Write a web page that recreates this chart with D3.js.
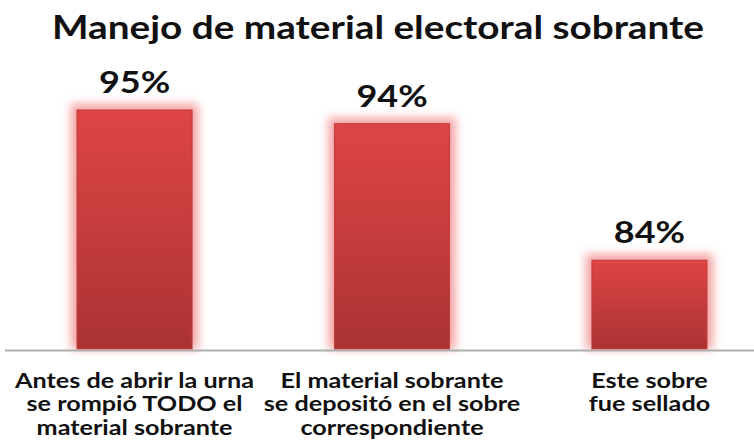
<!DOCTYPE html>
<html><head><meta charset="utf-8">
<script src="https://cdn.jsdelivr.net/npm/d3@7"></script>
<style>body{margin:0;background:#fff}svg{display:block}</style>
</head><body>
<script>
const categories = [
  ["Antes de abrir la urna","se rompió TODO el","material sobrante"],
  ["El material sobrante","se depositó en el sobre","correspondiente"],
  ["Este sobre","fue sellado"]
];
const values = [95, 94, 84];
const valueLabels = ["95%","94%","84%"];
const title = "Manejo de material electoral sobrante";

const W = 754, H = 448;
const svg = d3.select("body").append("svg").attr("width", W).attr("height", H);
const defs = svg.append("defs");
const grad = defs.append("linearGradient").attr("id","barGrad").attr("x1",0).attr("y1",0).attr("x2",0).attr("y2",1);
grad.append("stop").attr("offset","0%").attr("stop-color","#df4545");
grad.append("stop").attr("offset","100%").attr("stop-color","#ab3333");
const glow = defs.append("filter").attr("id","glow").attr("x","-30%").attr("y","-30%").attr("width","160%").attr("height","160%");
glow.append("feGaussianBlur").attr("stdDeviation",5);

const font = "Lato, 'Open Sans', sans-serif";
const stretch = 1.2;
const idx = d3.range(values.length);
const x = d3.scaleBand().domain(idx).range([77, 707]).paddingInner(0.553).paddingOuter(0);
const y = d3.scaleLinear().domain([77.5, 95]).range([349, 110]);
const cx = i => x(i) + x.bandwidth()/2;

svg.append("text").attr("x", 378).attr("y", 39).attr("text-anchor","middle")
  .attr("font-family", font).attr("font-weight", "bold").attr("font-size", 33)
  .attr("fill","#111").attr("textLength", 652).attr("lengthAdjust","spacingAndGlyphs").text(title);

const g = svg.append("g");
g.selectAll("rect.glow").data(idx).join("rect").attr("class","glow")
  .attr("x", i => x(i) - 6).attr("width", x.bandwidth() + 12)
  .attr("y", i => y(values[i]) - 6).attr("height", i => y.range()[0] - y(values[i]) + 6)
  .attr("fill","#f4a0a0").attr("filter","url(#glow)");
g.selectAll("rect.bar").data(idx).join("rect").attr("class","bar")
  .attr("x", i => x(i)).attr("width", x.bandwidth())
  .attr("y", i => y(values[i])).attr("height", i => y.range()[0] - y(values[i]))
  .attr("fill","url(#barGrad)").attr("stroke","#c03c3c").attr("stroke-width",1);

svg.append("line").attr("x1", 5).attr("x2", W).attr("y1", 350.5).attr("y2", 350.5)
  .attr("stroke","#b0b0b0").attr("stroke-width",2);

svg.selectAll("text.val").data(idx).join("text").attr("class","val")
  .attr("transform", i => `translate(${cx(i)},${y(values[i]) - 17}) scale(${stretch},1)`)
  .attr("text-anchor","middle").attr("font-family", font).attr("font-weight","bold")
  .attr("font-size", 30).attr("fill","#111").text(i => valueLabels[i]);

const cl = svg.selectAll("text.cat").data(idx).join("text").attr("class","cat")
  .attr("transform", i => `translate(${cx(i)},0) scale(${stretch},1)`)
  .attr("text-anchor","middle").attr("font-family", font).attr("font-weight","bold")
  .attr("font-size", 21).attr("fill","#111");
cl.each(function(i){
  const t = d3.select(this);
  categories[i].forEach((line, k) => {
    t.append("tspan").attr("x", 0).attr("y", 388 + k*23.5).text(line);
  });
});
</script>
</body></html>
